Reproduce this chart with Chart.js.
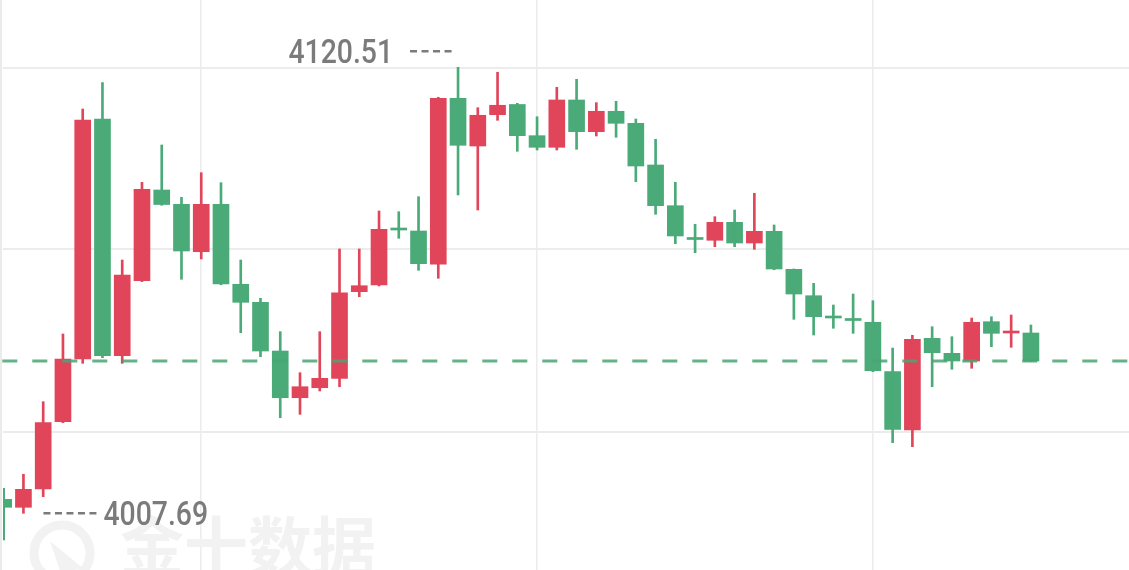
<!DOCTYPE html>
<html>
<head>
<meta charset="utf-8">
<title>K线</title>
<script src="https://cdn.jsdelivr.net/npm/chart.js@4.4.1/dist/chart.umd.min.js"></script>
<style>
    html, body { margin: 0; padding: 0; background: #ffffff; }
    #wrap { width: 1129px; height: 570px; position: relative; }
</style>
</head>
<body>
<div id="wrap"><canvas id="kline"></canvas></div>
<script>
// candle values (oldest first)
const opens = [4011.23, 4009.21, 4013.84, 4030.86, 4046.72, 4107.43, 4047.56, 4066.53, 4089.47, 4085.85,
    4073.86, 4085.85, 4065.62, 4061.06, 4048.74, 4036.93, 4039.46, 4041.84, 4063.75, 4065.44,
    4079.48, 4079.10, 4070.68, 4112.67, 4100.60, 4108.52, 4111.10, 4103.21, 4100.27, 4112.24,
    4104.22, 4109.38, 4106.34, 4095.80, 4085.50, 4077.20, 4076.75, 4081.30, 4076.06, 4079.02,
    4069.41, 4062.73, 4057.27, 4056.71, 4056.01, 4043.51, 4028.76, 4051.96, 4048.16, 4046.22,
    4056.16, 4053.30, 4053.30];
const highs = [4014.01, 4017.56, 4035.92, 4053.05, 4109.96, 4116.61, 4071.76, 4091.42, 4100.85, 4087.63,
    4093.85, 4091.32, 4071.76, 4062.08, 4053.63, 4043.26, 4053.63, 4074.55, 4074.55, 4084.16,
    4083.98, 4087.78, 4112.92, 4120.51, 4110.29, 4119.25, 4111.40, 4108.01, 4115.45, 4117.47,
    4111.56, 4111.91, 4107.43, 4102.30, 4091.42, 4080.80, 4082.72, 4084.41, 4088.64, 4080.62,
    4069.50, 4065.87, 4060.38, 4063.16, 4061.47, 4049.50, 4052.72, 4054.89, 4052.36, 4057.09,
    4057.42, 4057.85, 4055.32];
const lows = [4000.94, 4007.69, 4011.89, 4030.61, 4045.63, 4047.05, 4045.63, 4066.30, 4085.60, 4066.88,
    4072.02, 4065.50, 4053.37, 4047.30, 4031.87, 4032.73, 4038.63, 4039.71, 4062.48, 4065.19,
    4077.25, 4069.16, 4067.14, 4088.21, 4084.41, 4107.10, 4099.26, 4099.59, 4099.59, 4099.77,
    4103.13, 4102.80, 4091.57, 4083.32, 4075.89, 4073.61, 4075.13, 4075.13, 4074.47, 4069.30,
    4056.76, 4052.79, 4054.49, 4053.22, 4043.51, 4025.55, 4024.54, 4039.71, 4044.12, 4044.37,
    4049.83, 4049.68, 4046.10];
const closes = [4009.21, 4013.76, 4030.61, 4046.72, 4107.18, 4047.56, 4067.97, 4089.65, 4085.80, 4074.04,
    4085.85, 4065.69, 4061.06, 4048.74, 4036.93, 4039.71, 4041.84, 4063.49, 4065.26, 4079.53,
    4079.35, 4070.83, 4112.67, 4100.78, 4108.37, 4110.90, 4103.21, 4100.27, 4112.24, 4104.22,
    4109.38, 4106.34, 4095.54, 4085.50, 4077.84, 4076.95, 4081.30, 4076.06, 4079.02, 4069.49,
    4063.16, 4057.42, 4057.09, 4056.46, 4043.76, 4028.94, 4051.70, 4048.31, 4046.22, 4056.01,
    4053.22, 4053.55, 4046.22];

// horizontal grid levels and the candles that carry a vertical grid line
const gridLevels = [4028.33, 4074.45, 4120.40];
const gridCandles = [10, 27, 44];

const UP = "#e0455a";
const DOWN = "#4aaa78";
const LABEL_GREY = "#7b7b7b";

const candleColors = opens.map((o, i) => (closes[i] >= o ? UP : DOWN));
const wickData = opens.map((o, i) => ({ x: i, y: [lows[i], highs[i]] }));
const bodyData = opens.map((o, i) => ({ x: i, y: [o, closes[i]] }));

// first candle sits half outside the view, so the extremes are taken from the rest
const firstVisible = 1;

function drawValue(ctx, text, x, baseline, align) {
    const squeeze = 0.86;
    ctx.save();
    ctx.font = "500 33px Roboto";
    const w = ctx.measureText(text).width * squeeze;
    const left = align === "right" ? x - w : x;
    ctx.translate(left, baseline);
    ctx.scale(squeeze, 1);
    ctx.fillStyle = LABEL_GREY;
    ctx.textAlign = "left";
    ctx.textBaseline = "alphabetic";
    ctx.fillText(text, 0, 0);
    ctx.restore();
}

function dashedSegment(ctx, x1, x2, y) {
    ctx.save();
    ctx.strokeStyle = LABEL_GREY;
    ctx.lineWidth = 2.5;
    ctx.setLineDash([7, 4.5]);
    ctx.beginPath();
    ctx.moveTo(x1, y);
    ctx.lineTo(x2, y);
    ctx.stroke();
    ctx.restore();
}

const watermark = {
    id: "watermark",
    beforeDatasetsDraw(chart) {
        const ctx = chart.ctx;
        ctx.save();
        ctx.strokeStyle = "#f2f2f2";
        ctx.fillStyle = "#f2f2f2";
        ctx.lineWidth = 9;
        ctx.beginPath();
        ctx.arc(62, 553, 28, 0, Math.PI * 2);
        ctx.stroke();
        ctx.beginPath();
        ctx.moveTo(50, 541);
        ctx.lineTo(84, 569);
        ctx.lineTo(60, 571);
        ctx.closePath();
        ctx.fill();
        ctx.font = "bold 64px 'Noto Sans CJK SC'";
        ctx.textBaseline = "top";
        ctx.fillText("金十数据", 120, 514);
        ctx.restore();
    },
};

const overlays = {
    id: "overlays",
    afterDatasetsDraw(chart) {
        const ctx = chart.ctx;
        const xs = chart.scales.x;
        const ys = chart.scales.y;

        // last price line
        const lastY = ys.getPixelForValue(closes[closes.length - 1]);
        ctx.save();
        ctx.strokeStyle = "rgba(74, 165, 116, 0.85)";
        ctx.lineWidth = 3;
        ctx.setLineDash([15, 15]);
        ctx.beginPath();
        ctx.moveTo(2.3, lastY);
        ctx.lineTo(chart.width, lastY);
        ctx.stroke();
        ctx.restore();

        // highest / lowest markers
        let hi = firstVisible, lo = firstVisible;
        for (let i = firstVisible; i < highs.length; i++) {
            if (highs[i] > highs[hi]) hi = i;
            if (lows[i] < lows[lo]) lo = i;
        }
        const hx = xs.getPixelForValue(hi);
        const hy = ys.getPixelForValue(highs[hi]) - 16;
        dashedSegment(ctx, hx - 48, hx - 6, hy);
        drawValue(ctx, highs[hi].toFixed(2), hx - 65, hy + 11.5, "right");

        const lx = xs.getPixelForValue(lo);
        const ly = ys.getPixelForValue(lows[lo]);
        dashedSegment(ctx, lx + 20, lx + 73, ly);
        drawValue(ctx, lows[lo].toFixed(2), lx + 80, ly + 11.5, "left");

        // left edge
        ctx.save();
        ctx.strokeStyle = "#ebebeb";
        ctx.lineWidth = 2;
        ctx.beginPath();
        ctx.moveTo(1, 0);
        ctx.lineTo(1, chart.height);
        ctx.stroke();
        ctx.restore();
    },
};

new Chart(document.getElementById("kline"), {
    type: "bar",
    data: {
        datasets: [
            {
                label: "wick",
                data: wickData,
                backgroundColor: candleColors,
                barThickness: 2,
                grouped: false,
                borderWidth: 0,
            },
            {
                label: "body",
                data: bodyData,
                backgroundColor: candleColors,
                barThickness: 16,
                minBarLength: 2,
                grouped: false,
                borderWidth: 0,
            },
        ],
    },
    options: {
        responsive: true,
        maintainAspectRatio: false,
        animation: false,
        layout: { padding: { left: 3, right: 0, top: 0, bottom: 0 } },
        plugins: {
            legend: { display: false },
            tooltip: { enabled: false },
        },
        scales: {
            x: {
                type: "linear",
                offset: false,
                min: -0.035,
                max: 56.965,
                afterBuildTicks: (axis) => {
                    axis.ticks = gridCandles.map((v) => ({ value: v }));
                },
                ticks: { display: false },
                border: { display: false },
                grid: { color: "#ececec", lineWidth: 1.5, drawTicks: false, offset: false },
            },
            y: {
                min: 3993.35,
                max: 4137.53,
                afterBuildTicks: (axis) => {
                    axis.ticks = gridLevels.map((v) => ({ value: v }));
                },
                ticks: { display: false },
                border: { display: false },
                grid: { color: "#ececec", lineWidth: 2, drawTicks: false },
            },
        },
    },
    plugins: [watermark, overlays],
});
</script>
</body>
</html>
